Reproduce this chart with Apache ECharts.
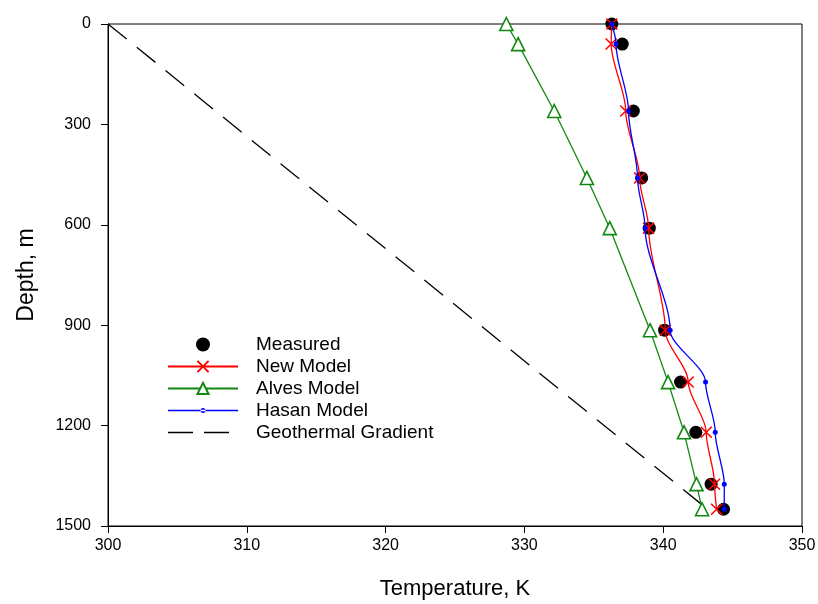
<!DOCTYPE html>
<html>
<head>
<meta charset="utf-8">
<script src="https://cdn.jsdelivr.net/npm/echarts@6/dist/echarts.min.js"></script>
<style>
  html, body { margin: 0; padding: 0; background: #fff; }
  #chart { width: 818px; height: 604px; }
</style>
</head>
<body>
<div id="chart"></div>
<script>
// depth (m) of each station
var depths = [0, 60, 260, 460, 610, 915, 1070, 1220, 1375, 1450];
// temperatures (K)
var measured = [336.3, 337.05, 337.85, 338.45, 339.0, 340.1, 341.25, 342.35, 343.45, 344.35];
var newModel = [336.3, 336.25, 337.3, 338.3, 338.95, 340.15, 341.8, 343.1, 343.7, 343.85];
var alvesModel = [328.7, 329.55, 332.15, 334.5, 336.15, 339.05, 340.35, 341.5, 342.4, 342.8];
var hasanModel = [336.3, 336.6, 337.5, 338.15, 338.7, 340.5, 343.05, 343.75, 344.4, 344.4];
var geoTemp = [300.0, 343.2];
var geoDepth = [0, 1450];
var xTicks = [300, 350, 10];
var yTicks = [0, 1500, 300];

function pairs(t, d) {
  var out = [];
  for (var i = 0; i < t.length; i++) out.push([t[i], d[i]]);
  return out;
}

var font = 'Liberation Sans, Arial, sans-serif';
var cross = 'path://M0,0L10,10M10,0L0,10';
// legend icons: line with small dot, and a two-dash line
var hasanIcon = 'path://M0,1.85H70V3.15H0Z M32.5,2.5A2.5,2.5,0,1,0,37.5,2.5A2.5,2.5,0,1,0,32.5,2.5Z';
var dashIcon = 'path://M0,0H25V1.3H0Z M36,0H61V1.3H36Z M70,0L70.01,0L70,0.01Z';

var myChart = echarts.init(document.getElementById('chart'));
var option = {
  animation: false,
  grid: { left: 108, right: 16, top: 24, bottom: 78, show: true, borderColor: '#000', borderWidth: 1, outerBoundsMode: 'none' },
  legend: {
    orient: 'vertical',
    left: 167,
    top: 335,
    padding: 0,
    itemWidth: 70,
    itemHeight: 14,
    itemGap: 3,
    textStyle: { fontFamily: font, fontSize: 19, lineHeight: 19, color: '#000', padding: [0, 0, 0, 13] },
    data: [
      'Measured',
      'New Model',
      'Alves Model',
      { name: 'Hasan Model', icon: hasanIcon },
      { name: 'Geothermal Gradient', icon: dashIcon }
    ]
  },
  xAxis: {
    type: 'value',
    min: xTicks[0], max: xTicks[1], interval: xTicks[2],
    name: 'Temperature, K',
    nameLocation: 'middle',
    nameGap: 52,
    nameTextStyle: { fontFamily: font, fontSize: 22, color: '#000' },
    axisLine: { onZero: false, lineStyle: { color: '#000', width: 1 } },
    axisTick: { show: true, length: 7, lineStyle: { color: '#000' } },
    axisLabel: { fontFamily: font, fontSize: 16, color: '#000', margin: 12 },
    splitLine: { show: false }
  },
  yAxis: {
    type: 'value',
    inverse: true,
    min: yTicks[0], max: yTicks[1], interval: yTicks[2],
    name: 'Depth, m',
    nameLocation: 'middle',
    nameGap: 70,
    nameTextStyle: { fontFamily: font, fontSize: 23, color: '#000' },
    axisLine: { onZero: false, lineStyle: { color: '#000', width: 1 } },
    axisTick: { show: true, length: 7, lineStyle: { color: '#000' } },
    axisLabel: { fontFamily: font, fontSize: 16, color: '#000', margin: 17, formatter: function (v) { return String(v); } },
    splitLine: { show: false }
  },
  series: [
    {
      name: 'Measured', type: 'scatter',
      data: pairs(measured, depths),
      symbol: 'circle', symbolSize: 13,
      itemStyle: { color: '#000', opacity: 1 },
      z: 2
    },
    {
      name: 'New Model', type: 'line',
      data: pairs(newModel, depths),
      smooth: 0.3, smoothMonotone: 'y',
      symbol: cross, symbolSize: 11,
      showAllSymbol: true,
      lineStyle: { color: '#ff0000', width: 1.3 },
      itemStyle: { color: '#ff0000', borderColor: '#ff0000', borderWidth: 1.5 },
      z: 3
    },
    {
      name: 'Alves Model', type: 'line',
      data: pairs(alvesModel, depths),
      smooth: false,
      symbol: 'triangle', symbolSize: 13,
      showAllSymbol: true,
      lineStyle: { color: '#118811', width: 1.3 },
      itemStyle: { color: '#fff', borderColor: '#118811', borderWidth: 1.6 },
      z: 3
    },
    {
      name: 'Hasan Model', type: 'line',
      data: pairs(hasanModel, depths),
      smooth: 0.3, smoothMonotone: 'y',
      symbol: 'circle', symbolSize: 5,
      showAllSymbol: true,
      lineStyle: { color: '#0000ff', width: 1.3 },
      itemStyle: { color: '#0000ff', borderColor: '#0000ff', borderWidth: 0 },
      z: 4
    },
    {
      name: 'Geothermal Gradient', type: 'line',
      data: pairs(geoTemp, geoDepth),
      symbol: 'none',
      lineStyle: { color: '#000', width: 1.3, type: [24, 13] },
      itemStyle: { color: '#000' },
      z: 1
    }
  ]
};
myChart.setOption(option);
</script>
</body>
</html>
